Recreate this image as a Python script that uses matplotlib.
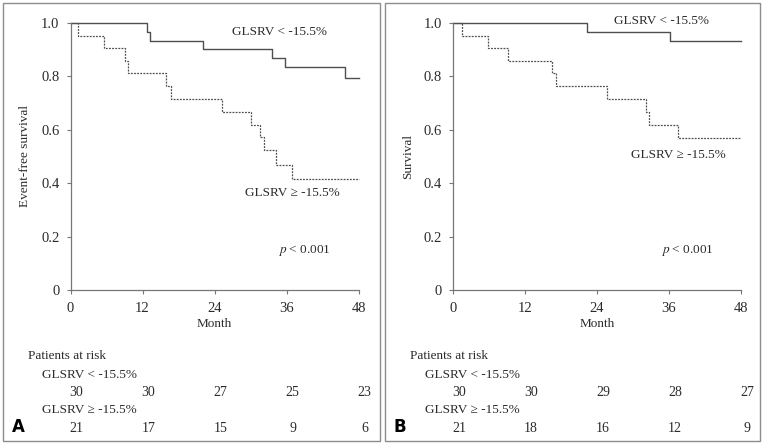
import matplotlib
matplotlib.use("Agg")
import matplotlib.pyplot as plt
from matplotlib.patches import Rectangle

plt.rcParams['font.family'] = ['Liberation Serif', 'DejaVu Serif']
plt.rcParams['mathtext.fontset'] = 'stix'

W, H = 764, 445

# Kaplan-Meier step data
a_low_t = [0, 12.8, 13.2, 22.1, 33.6, 35.7, 45.7, 48]
a_low_s = [1.0, 0.967, 0.933, 0.900, 0.867, 0.833, 0.793, 0.793]
a_high_t = [0, 1.2, 5.6, 9.0, 9.6, 15.9, 16.7, 25.2, 30.1, 31.6, 32.2, 34.3, 36.9, 48]
a_high_s = [1.0, 0.952, 0.905, 0.857, 0.810, 0.762, 0.714, 0.667, 0.619, 0.571, 0.524, 0.467, 0.415, 0.415]

b_low_t = [0, 22.4, 36.2, 48]
b_low_s = [1.0, 0.967, 0.933, 0.933]
b_high_t = [0, 1.5, 5.9, 9.2, 16.5, 17.1, 25.7, 32.2, 32.7, 37.5, 48]
b_high_s = [1.0, 0.952, 0.905, 0.857, 0.810, 0.762, 0.714, 0.667, 0.619, 0.567, 0.567]

month_ticks = [0, 12, 24, 36, 48]
a_risk_low = [30, 30, 27, 25, 23]
a_risk_high = [21, 17, 15, 9, 6]
b_risk_low = [30, 30, 29, 28, 27]
b_risk_high = [21, 18, 16, 12, 9]

y_ticks = [0, 0.2, 0.4, 0.6, 0.8, 1.0]
y_labels = ["0", "0.2", "0.4", "0.6", "0.8", "1.0"]

line_col = "#4f4f4f"
text_col = "#2b2b2b"
fs = 9.5
fs_num = 10.5

fig = plt.figure(figsize=(W / 100, H / 100), dpi=100)


def fx(px):
    return px / W


def fy(py):
    return 1 - py / H


def label(px, py, s, size=fs, **kw):
    # py is the baseline in pixels
    fig.text(fx(px), fy(py), s, fontsize=size, color=text_col,
             va="baseline", **kw)


def panel(x0, x1, low_t, low_s, high_t, high_s, risk_low, risk_high,
          ylabel, letter, low_lab, high_lab):
    # frame around the panel
    fig.patches.append(Rectangle((fx(x0), fy(441)), fx(x1 - x0), (441 - 3) / H,
                                 transform=fig.transFigure, fill=False,
                                 edgecolor="#8c8c8c", lw=1.0))
    left = x0 + 68
    ax = fig.add_axes([fx(left), fy(290), fx(288), (290 - 22.7) / H])
    ax.step(low_t, low_s, where="post", color=line_col, lw=1.0, clip_on=False)
    ax.step(high_t, high_s, where="post", color=line_col, lw=0.9,
            linestyle=(0, (1.5, 1)), clip_on=False)
    ax.set_xlim(0, 48)
    ax.set_ylim(0, 1.0)
    ax.set_xticks(month_ticks)
    ax.set_yticks(y_ticks)
    ax.set_yticklabels(y_labels)
    for s in ["top", "right"]:
        ax.spines[s].set_visible(False)
    for s in ["left", "bottom"]:
        ax.spines[s].set_color("#777777")
        ax.spines[s].set_linewidth(0.9)
    ax.tick_params(colors="#777777", labelcolor=text_col, labelsize=fs_num,
                   length=3, width=0.8)
    ax.tick_params(axis="y", pad=5)
    ax.tick_params(axis="x", pad=6)
    ax.set_xlabel("Month", fontsize=fs, color=text_col, labelpad=2)
    ax.set_ylabel(ylabel, fontsize=fs, color=text_col, labelpad=7)

    label(*low_lab, "GLSRV < -15.5%")
    label(*high_lab, "GLSRV \u2265 -15.5%")
    label(x0 + 276, 253, "$p$ < 0.001")

    # patients at risk table
    label(x0 + 25, 359, "Patients at risk")
    label(x0 + 40, 377.7, "GLSRV < -15.5%")
    label(x0 + 40, 412.7, "GLSRV \u2265 -15.5%")
    tr = ax.get_xaxis_transform()
    for m, n1, n2 in zip(month_ticks, risk_low, risk_high):
        ax.text(m + 1.0, -(395.5 - 290) / (290 - 22.7), str(n1), transform=tr,
                ha="center", va="baseline", fontsize=10, color=text_col)
        ax.text(m + 1.0, -(431.5 - 290) / (290 - 22.7), str(n2), transform=tr,
                ha="center", va="baseline", fontsize=10, color=text_col)
    fig.text(fx(x0 + 9), fy(431.7), letter, fontsize=12, fontweight="bold",
             family="DejaVu Sans", color="black", va="baseline")
    return ax


panel(2.5, 380, a_low_t, a_low_s, a_high_t, a_high_s, a_risk_low, a_risk_high,
      "Event-free survival", "A", (232, 35), (245, 196.5))
panel(385, 760, b_low_t, b_low_s, b_high_t, b_high_s, b_risk_low, b_risk_high,
      "Survival", "B", (614, 24), (631, 158))

fig.savefig("out.png", dpi=100)
